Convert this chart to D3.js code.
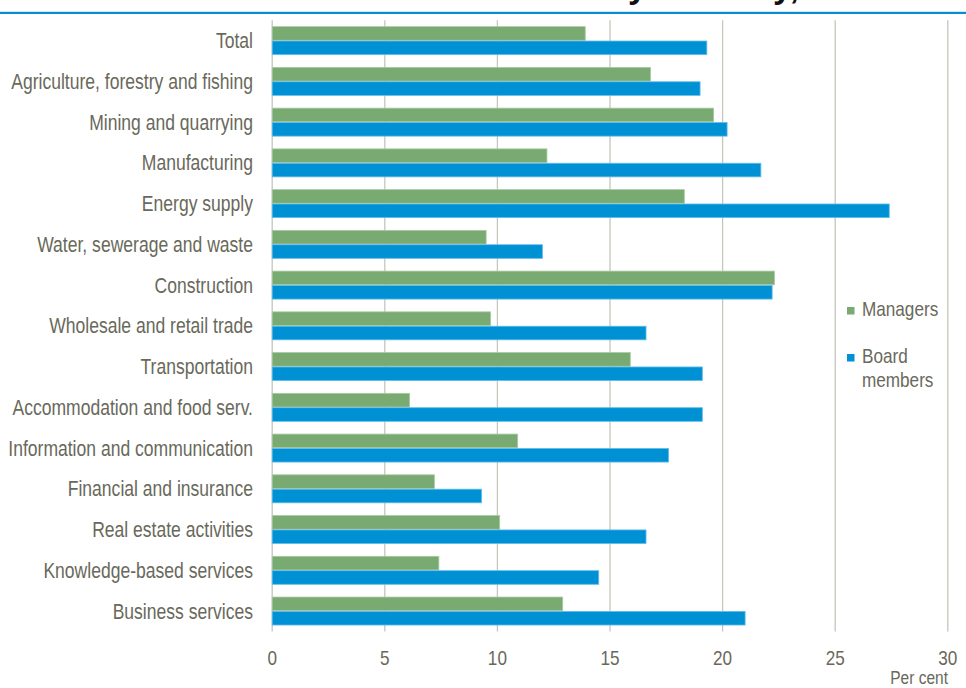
<!DOCTYPE html>
<html>
<head>
<meta charset="utf-8">
<script src="https://cdn.jsdelivr.net/npm/d3@7"></script>
<style>
  html, body { margin: 0; padding: 0; background: #ffffff; }
  svg { display: block; }
</style>
</head>
<body>
<svg id="chart" width="966" height="688"></svg>
<script>
// Share of women (per cent) among managers and board members, by industry
const categories = [
  "Total",
  "Agriculture, forestry and fishing",
  "Mining and quarrying",
  "Manufacturing",
  "Energy supply",
  "Water, sewerage and waste",
  "Construction",
  "Wholesale and retail trade",
  "Transportation",
  "Accommodation and food serv.",
  "Information and communication",
  "Financial and insurance",
  "Real estate activities",
  "Knowledge-based services",
  "Business services"
];
const managers = [13.9, 16.8, 19.6, 12.2, 18.3, 9.5, 22.3, 9.7, 15.9, 6.1, 10.9, 7.2, 10.1, 7.4, 12.9];
const boardMembers = [19.3, 19.0, 20.2, 21.7, 27.4, 12.0, 22.2, 16.6, 19.1, 19.1, 17.6, 9.3, 16.6, 14.5, 21.0];
const seriesNames = ["Managers", "Board members"];
const seriesColors = ["#79aa71", "#0091d5"];
const seriesEdges = ["#a8c9a1", "#63bde9"];
const xTicks = [0, 5, 10, 15, 20, 25, 30];
const titleFragment = "by industry,";
const unitLabel = "Per cent";

const svg = d3.select("#chart");
const W = 966;
const textColor = "#69695b";
const baseFont = "'Liberation Sans', Arial, sans-serif";

// Condensed look: a regular sans squeezed horizontally
const probe = svg.append("text").attr("font-size", 21.5).attr("font-family", baseFont)
  .text("Agriculture, forestry and fishing");
const squeeze = 242 / probe.node().getComputedTextLength();
probe.remove();

function condensed(sel, x, y) {
  sel.attr("transform", `translate(${x},${y}) scale(${squeeze},1)`);
}

const plotTop = 20.3, plotBottom = 631.4;
const x = d3.scaleLinear().domain([0, 30]).range([272.2, 947.8]);
const y = d3.scaleBand().domain(categories).range([plotTop, plotBottom])
  .paddingInner(0.313).paddingOuter(0.156);
const ySub = d3.scaleBand().domain(seriesNames).range([0, y.bandwidth()]).paddingInner(0.05);

// Header rule and the tail of the title, which runs off the top edge
const title = svg.append("text")
  .attr("font-family", baseFont)
  .attr("font-weight", "bold").attr("font-size", 28)
  .attr("fill", "#111111")
  .text(titleFragment);
{
  const n = title.node();
  const span = n.getSubStringLength(1, 9);           // "y industr"
  const size = 28 * 145 / span;
  title.attr("font-size", size);
  const bW = n.getSubStringLength(0, 1);
  title.attr("x", 628 - bW).attr("y", 4.7 - 0.21 * size);
}
svg.append("rect").attr("x", 0).attr("y", 11.8).attr("width", W).attr("height", 2.2).attr("fill", "#0a8ccf");

// Vertical gridlines
svg.append("g").selectAll("line").data(xTicks).join("line")
  .attr("x1", d => x(d)).attr("x2", d => x(d))
  .attr("y1", plotTop).attr("y2", plotBottom)
  .attr("stroke", "#c6c6ba").attr("stroke-width", 1.3);

// X axis tick labels
const xAxis = svg.append("g");
xTicks.forEach(t => {
  xAxis.append("text")
    .call(condensed, x(t), 665)
    .attr("text-anchor", "middle")
    .attr("font-family", baseFont).attr("font-size", 21)
    .attr("fill", textColor)
    .text(t);
});
svg.append("text")
  .call(condensed, 948, 684)
  .attr("text-anchor", "end")
  .attr("font-family", baseFont).attr("font-size", 19)
  .attr("fill", textColor)
  .text(unitLabel);

// Category labels
svg.append("g").selectAll("text").data(categories).join("text")
  .each(function (d) { d3.select(this).call(condensed, 253, y(d) + y.bandwidth() / 2 + 7.6); })
  .attr("text-anchor", "end")
  .attr("font-family", baseFont).attr("font-size", 21.5)
  .attr("fill", textColor)
  .text(d => d);

// Bars
const rows = categories.map((c, i) => ({ cat: c, values: [managers[i], boardMembers[i]] }));
const groups = svg.append("g").selectAll("g").data(rows).join("g")
  .attr("transform", d => `translate(0,${y(d.cat)})`);
groups.selectAll("rect").data(d => d.values.map((v, j) => ({ v, s: seriesNames[j], j })))
  .join("rect")
  .attr("x", x(0))
  .attr("y", d => ySub(d.s))
  .attr("width", d => x(d.v) - x(0))
  .attr("height", ySub.bandwidth())
  .attr("fill", d => seriesColors[d.j])
  .attr("stroke", d => seriesEdges[d.j])
  .attr("stroke-width", 0.8);

// Legend
const legend = svg.append("g");
const legendItems = [
  { lines: ["Managers"], y: 316 },
  { lines: ["Board", "members"], y: 363 }
];
legendItems.forEach((item, i) => {
  legend.append("rect")
    .attr("x", 847).attr("y", item.y - 9).attr("width", 7.5).attr("height", 7.5)
    .attr("fill", seriesColors[i]);
  item.lines.forEach((ln, k) => {
    legend.append("text")
      .call(condensed, 862, item.y + k * 24)
      .attr("font-family", baseFont).attr("font-size", 21)
      .attr("fill", textColor)
      .text(ln);
  });
});
</script>
</body>
</html>
